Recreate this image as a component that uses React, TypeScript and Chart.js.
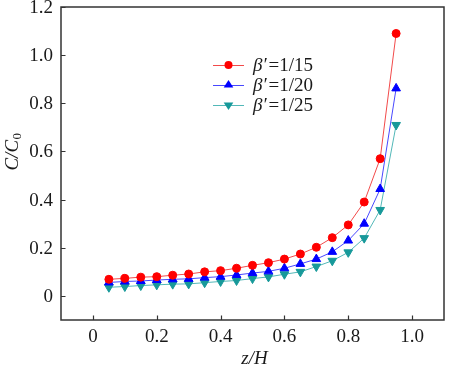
import React, { useEffect, useRef } from "react";
import { Chart, registerables } from "chart.js";

Chart.register(...registerables);

const zH = [0.05, 0.1, 0.15, 0.2, 0.25, 0.3, 0.35, 0.4, 0.45, 0.5, 0.55, 0.6, 0.65, 0.7, 0.75, 0.8, 0.85, 0.9, 0.95];
const beta15 = [0.069, 0.073, 0.078, 0.08, 0.086, 0.091, 0.1, 0.105, 0.115, 0.127, 0.138, 0.153, 0.174, 0.202, 0.242, 0.295, 0.39, 0.57, 1.09];
const beta20 = [0.056, 0.06, 0.062, 0.066, 0.069, 0.071, 0.076, 0.08, 0.087, 0.095, 0.102, 0.115, 0.133, 0.153, 0.183, 0.23, 0.3, 0.444, 0.862];
const beta25 = [0.036, 0.039, 0.043, 0.046, 0.049, 0.05, 0.055, 0.06, 0.064, 0.072, 0.079, 0.09, 0.1, 0.122, 0.146, 0.181, 0.24, 0.357, 0.71];
const seriesLabels = ["=1/15", "=1/20", "=1/25"];
const xTicks = [0, 0.2, 0.4, 0.6, 0.8, 1.0];
const yTicks = [0, 0.2, 0.4, 0.6, 0.8, 1.0, 1.2];

const styles = [
  { line: "#f24a4a", mark: "#ff0000", pointStyle: "circle", rotation: 0, radius: 4 },
  { line: "#4848ff", mark: "#0000ff", pointStyle: "triangle", rotation: 0, radius: 5 },
  { line: "#52b8b8", mark: "#17999a", pointStyle: "triangle", rotation: 180, radius: 5 },
];

const FONT = "'Liberation Serif', 'Times New Roman', serif";
const fmt = (v: number) => (v === 0 ? "0" : v.toFixed(1));

function drawMarker(ctx: CanvasRenderingContext2D, kind: string, rot: number, r: number, x: number, y: number) {
  ctx.beginPath();
  if (kind === "circle") {
    ctx.arc(x, y, r, 0, Math.PI * 2);
  } else {
    const d = rot === 180 ? -1 : 1;
    const h = r * 1.5;
    const w = r * Math.sqrt(3) / 2 * 1.0;
    ctx.moveTo(x, y - d * r);
    ctx.lineTo(x - w * 1.0 - 0.5, y + d * (h - r));
    ctx.lineTo(x + w * 1.0 + 0.5, y + d * (h - r));
    ctx.closePath();
  }
  ctx.fill();
}

const decorPlugin = {
  id: "decor",
  afterDraw(chart: any) {
    const ctx = chart.ctx as CanvasRenderingContext2D;
    const area = chart.chartArea;
    const xs = chart.scales.x;
    const ys = chart.scales.y;
    ctx.save();
    ctx.strokeStyle = "#333";
    ctx.lineWidth = 1.5;
    ctx.strokeRect(area.left, area.top, area.right - area.left, area.bottom - area.top);
    ctx.lineWidth = 1.2;
    ctx.beginPath();
    xTicks.forEach((v) => {
      const px = Math.round(xs.getPixelForValue(v)) + 0.5;
      ctx.moveTo(px, area.bottom);
      ctx.lineTo(px, area.bottom - 4.5);
    });
    yTicks.forEach((v) => {
      const py = Math.round(ys.getPixelForValue(v)) + 0.5;
      ctx.moveTo(area.left, py);
      ctx.lineTo(area.left + 4.5, py);
    });
    ctx.stroke();
    ctx.fillStyle = "#1a1a1a";
    ctx.font = `19px ${FONT}`;
    ctx.textAlign = "center";
    ctx.textBaseline = "middle";
    xTicks.forEach((v) => {
      ctx.fillText(fmt(v), xs.getPixelForValue(v), area.bottom + 17);
    });
    ctx.textAlign = "right";
    yTicks.forEach((v) => {
      ctx.fillText(fmt(v), area.left - 8, ys.getPixelForValue(v) + 1);
    });
    ctx.textAlign = "center";
    ctx.font = `italic 19px ${FONT}`;
    ctx.fillText("z/H", (area.left + area.right) / 2 + 2, area.bottom + 39);
    ctx.save();
    ctx.translate(13, 152);
    ctx.rotate(-Math.PI / 2);
    ctx.font = `italic 19px ${FONT}`;
    const main = "C/C";
    const wMain = ctx.measureText(main).width;
    ctx.font = `13px ${FONT}`;
    const wSub = ctx.measureText("0").width;
    const start = -(wMain + wSub) / 2;
    ctx.textAlign = "left";
    ctx.font = `italic 19px ${FONT}`;
    ctx.fillText(main, start, 0);
    ctx.font = `13px ${FONT}`;
    ctx.fillText("0", start + wMain + 0.5, 5);
    ctx.restore();
    const lx0 = 213, lx1 = 244, tx = 253;
    styles.forEach((s, i) => {
      const y = 65 + 20 * i;
      ctx.strokeStyle = s.line;
      ctx.lineWidth = 1;
      ctx.beginPath();
      ctx.moveTo(lx0, y + 0.5);
      ctx.lineTo(lx1, y + 0.5);
      ctx.stroke();
      ctx.fillStyle = s.mark;
      drawMarker(ctx, s.pointStyle, s.rotation, s.radius, (lx0 + lx1) / 2, y);
      ctx.fillStyle = "#1a1a1a";
      ctx.textAlign = "left";
      ctx.textBaseline = "middle";
      ctx.font = `italic 19px ${FONT}`;
      const b = "\u03B2\u2032";
      ctx.fillText(b, tx, y + 1);
      const wb = ctx.measureText(b).width;
      ctx.font = `19px ${FONT}`;
      ctx.fillText(seriesLabels[i], tx + wb + 2, y + 1);
    });
    ctx.restore();
  },
};

export default function App() {
  const ref = useRef<HTMLCanvasElement | null>(null);
  useEffect(() => {
    if (!ref.current) return;
    const all = [beta15, beta20, beta25];
    const chart = new Chart(ref.current, {
      type: "line",
      data: {
        datasets: all.map((vals, i) => ({
          label: "\u03B2\u2032" + seriesLabels[i],
          data: zH.map((x, j) => ({ x, y: vals[j] })),
          borderColor: styles[i].line,
          backgroundColor: styles[i].mark,
          pointBackgroundColor: styles[i].mark,
          pointBorderColor: styles[i].mark,
          pointStyle: styles[i].pointStyle as any,
          pointRotation: styles[i].rotation,
          pointRadius: styles[i].radius,
          borderWidth: 1,
          tension: 0,
          fill: false,
        })),
      },
      options: {
        animation: false,
        responsive: true,
        maintainAspectRatio: false,
        layout: { padding: { top: 7, right: 1, left: 0, bottom: 0 } },
        plugins: { legend: { display: false }, tooltip: { enabled: false } },
        scales: {
          x: {
            type: "linear",
            min: -0.1,
            max: 1.1,
            grid: { display: false },
            border: { display: false },
            ticks: { display: false },
            afterFit: (s: any) => { s.height = 45; },
          },
          y: {
            type: "linear",
            min: -0.1,
            max: 1.2,
            grid: { display: false },
            border: { display: false },
            ticks: { display: false },
            afterFit: (s: any) => { s.width = 61; },
          },
        },
      },
      plugins: [decorPlugin],
    });
    return () => chart.destroy();
  }, []);
  return (
    <div style={{ position: "fixed", left: 0, top: 0, width: 450, height: 365, background: "#fff" }}>
      <canvas ref={ref} />
    </div>
  );
}
